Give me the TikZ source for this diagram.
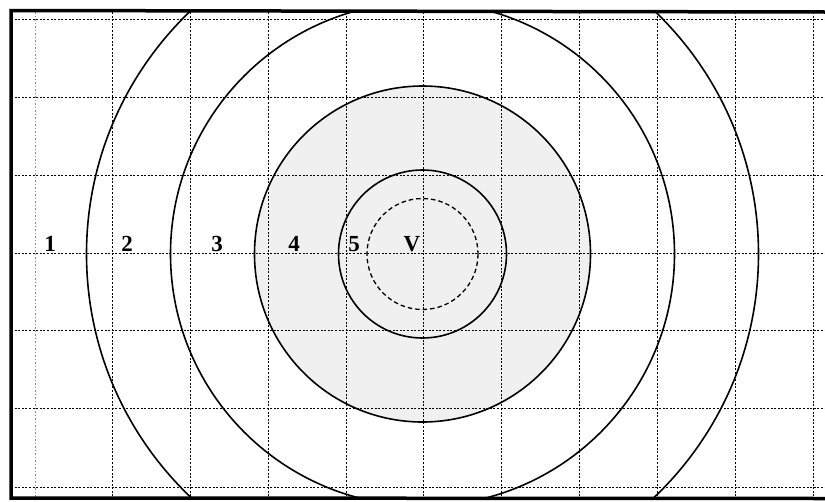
\documentclass[tikz,border=0pt]{standalone}
\usepackage{fontspec}
\setmainfont{Liberation Serif}
\begin{document}
\begin{tikzpicture}[x=1pt,y=-1pt,
  gridline/.style={line width=0.9pt, dash pattern=on 2pt off 1.6pt, black},
  gridlight/.style={line width=0.9pt, dash pattern=on 1.5pt off 2pt, black!45},
  ring/.style={line width=1.6pt},
  lbl/.style={font=\fontsize{23}{27}\selectfont\bfseries, anchor=base, inner sep=0pt}]
\useasboundingbox (0,0) rectangle (825,501);
\coordinate (C) at (422.5,254);
\begin{scope}
\clip (11,12) rectangle (825,498);
\fill[black!6] (C) circle[radius=168];
% grid
\draw[gridlight] (35,12) -- (35,498);
\foreach \x in {112.5,190,268,346,423,501,579,657,735,813}
  \draw[gridline] (\x,12) -- (\x,498);
\foreach \y in {19,97,175,253,330,408,487}
  \draw[gridline] (11,\y) -- (825,\y);
% circles
\foreach \r in {84,168,252,336}
  \draw[ring] (C) circle[radius=\r];
\draw[line width=1.3pt, dash pattern=on 4.5pt off 3pt] (C) circle[radius=55.5];
\end{scope}
% frame
\draw[line width=3.5pt] (825,12) -- (11,10.5) -- (11,498) -- (825,498.5);
% labels
\node[lbl] (l1) at (50,251) {1};
\node[lbl] (l2) at (127,251) {2};
\node[lbl] (l3) at (217,251) {3};
\node[lbl] (l4) at (294,251) {4};
\node[lbl] (l5) at (354,251) {5};
\node[lbl] (lV) at (412,251) {V};
\end{tikzpicture}
\end{document}
